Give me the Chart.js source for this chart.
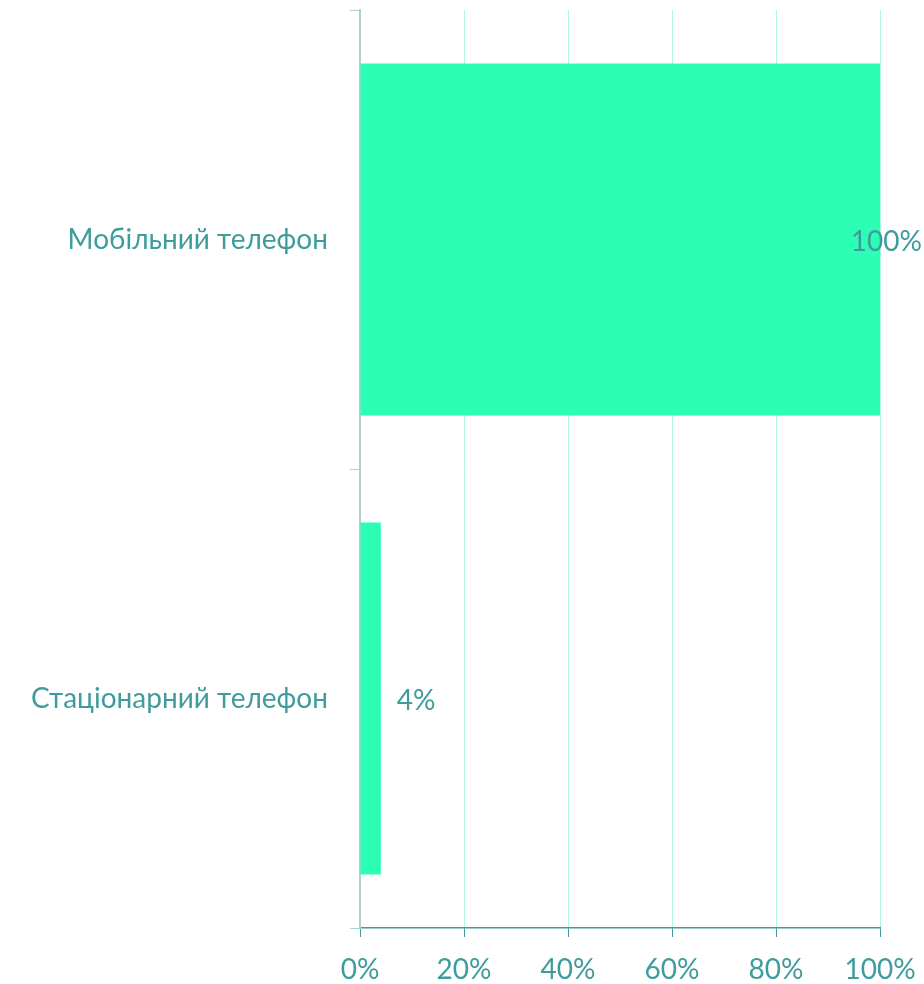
<!DOCTYPE html>
<html>
<head>
<meta charset="utf-8">
<script src="https://cdn.jsdelivr.net/npm/chart.js@4/dist/chart.umd.min.js"></script>
<style>
  html, body { margin: 0; padding: 0; background: #fff; }
  #wrap { width: 924px; height: 984px; }
</style>
</head>
<body>
<div id="wrap"><canvas id="myChart" width="924" height="984"></canvas></div>
<script>
"use strict"

const categories = ['Мобільний телефон', 'Стаціонарний телефон'];
const shares = [100, 4];
const xTicks = [0, 20, 40, 60, 80, 100];

const textColor = '#3f9c9c';
const fontFamily = 'Lato, "Open Sans", "Noto Sans", sans-serif';

// value labels next to the bar ends, kept inside the canvas
const barLabels = {
  id: 'barLabels',
  afterDatasetsDraw(chart) {
    const ctx = chart.ctx;
    const meta = chart.getDatasetMeta(0);
    ctx.save();
    ctx.font = '28px ' + fontFamily;
    ctx.fillStyle = textColor;
    ctx.textBaseline = 'middle';
    ctx.textAlign = 'left';
    meta.data.forEach((bar, i) => {
      const txt = shares[i] + '%';
      const w = ctx.measureText(txt).width;
      let x = bar.x + 16;
      if (x + w > chart.width - 2) x = chart.width - 2 - w;
      ctx.fillText(txt, x, bar.y + 2);
    });
    ctx.restore();
  }
};

let myChart = document.getElementById('myChart').getContext('2d');

let shareChart = new Chart(myChart, {
  type: 'bar',
  data: {
    labels: categories,
    datasets: [{
      data: shares,
      backgroundColor: '#2cffb3',
      categoryPercentage: 1,
      barPercentage: 0.767
    }]
  },
  options: {
    indexAxis: 'y',
    responsive: false,
    animation: false,
    layout: { padding: { top: 10, right: 44, left: 0, bottom: 0 } },
    plugins: {
      legend: { display: false },
      tooltip: { enabled: false }
    },
    scales: {
      x: {
        min: 0,
        max: 100,
        afterBuildTicks(scale) {
          scale.ticks = xTicks.map(v => ({ value: v }));
        },
        afterFit(scale) {
          scale.height = 56;
          scale.paddingLeft = 0;
          scale.paddingRight = 0;
        },
        ticks: {
          color: textColor,
          font: { family: fontFamily, size: 28 },
          padding: 16,
          callback: v => v + '%'
        },
        grid: {
          color: ctx => ctx.index === 0 ? 'rgba(0,0,0,0)' : '#aef7e2',
          tickColor: textColor,
          tickLength: 9,
          lineWidth: 1
        },
        border: { color: textColor, width: 1.5 }
      },
      y: {
        afterFit(scale) {
          scale.width = 360;
          scale.paddingTop = 0;
          scale.paddingBottom = 0;
        },
        ticks: {
          color: textColor,
          font: { family: fontFamily, size: 28 },
          padding: 22
        },
        grid: {
          drawOnChartArea: false,
          color: '#a9d3d3',
          tickLength: 10,
          offset: true
        },
        border: { color: '#a9d3d3', width: 2 }
      }
    }
  },
  plugins: [barLabels]
});
</script>
</body>
</html>
